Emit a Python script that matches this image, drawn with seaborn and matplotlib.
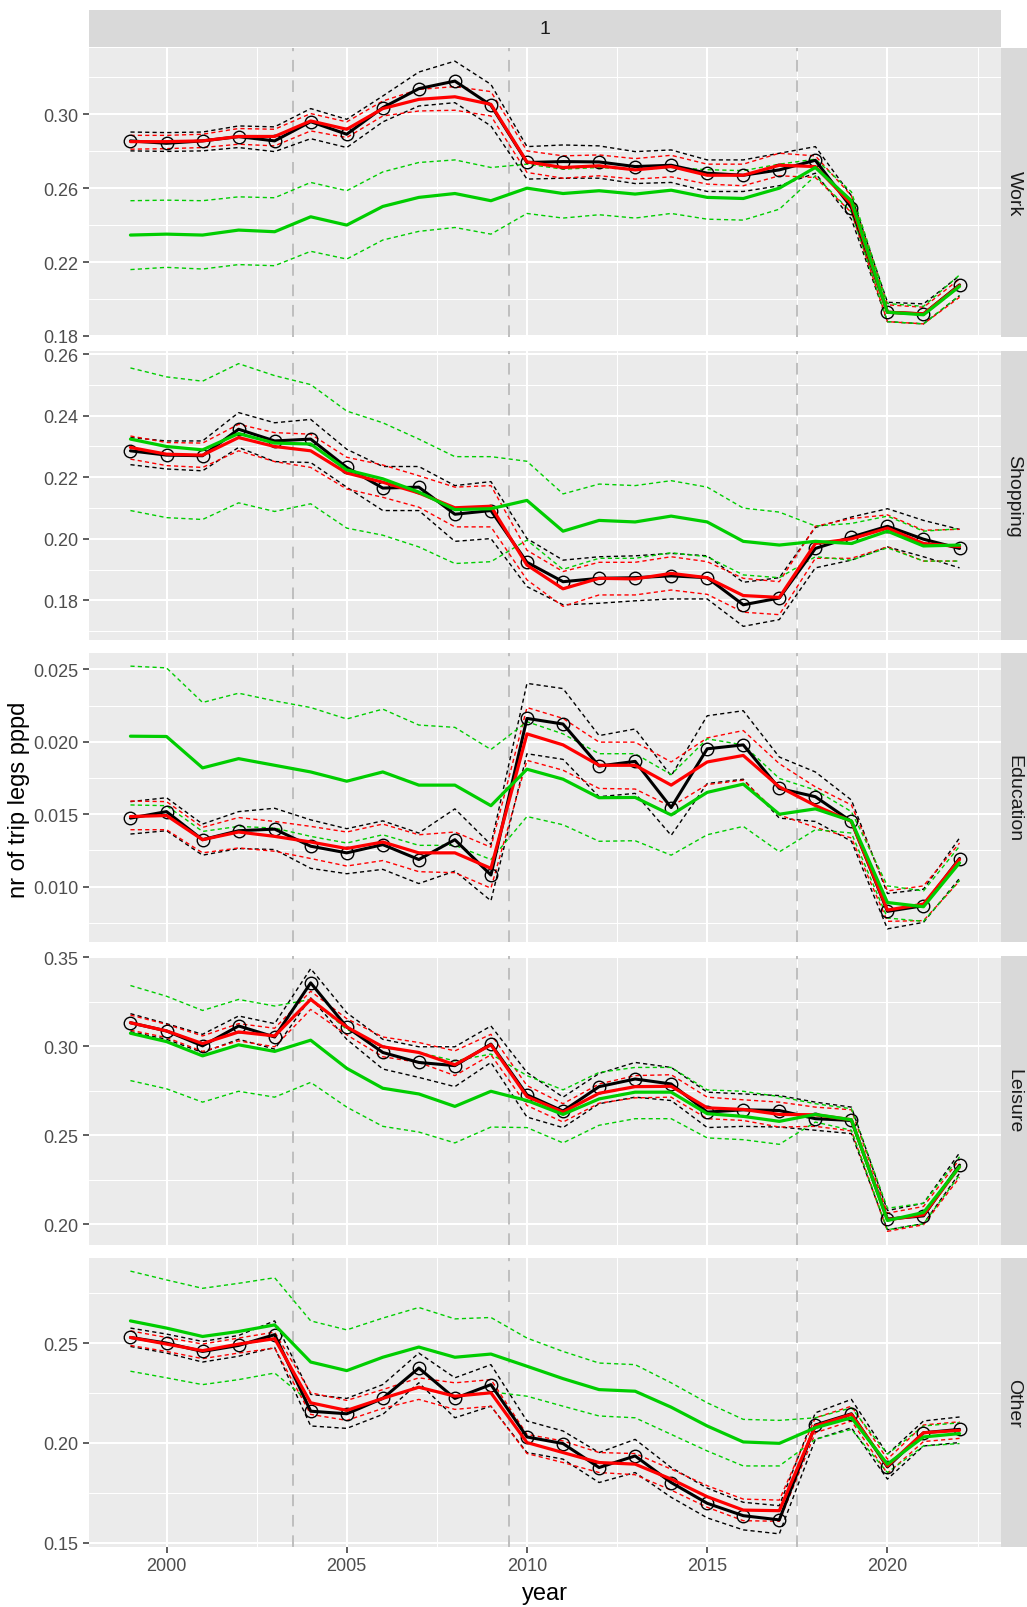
import matplotlib
matplotlib.use("Agg")
import matplotlib.pyplot as plt
import seaborn as sns
import pandas as pd
from matplotlib.ticker import FixedLocator, FormatStrFormatter

years = list(range(1999, 2023))
purposes = ["Work", "Shopping", "Education", "Leisure", "Other"]
breaks = [2003.5, 2009.5, 2017.5]

# Work
work_obs = [0.2856, 0.2843, 0.2856, 0.2879, 0.2856, 0.2960, 0.2892, 0.3036, 0.3139, 0.3180, 0.3049, 0.2739,
            0.2744, 0.2742, 0.2717, 0.2724, 0.2681, 0.2670, 0.2699, 0.2751, 0.2495, 0.1928, 0.1919, 0.2076]
work_obs_lo = [0.2802, 0.2799, 0.2802, 0.2820, 0.2798, 0.2868, 0.2820, 0.2959, 0.3045, 0.3063, 0.2937, 0.2649,
               0.2654, 0.2654, 0.2625, 0.2631, 0.2582, 0.2582, 0.2613, 0.2681, 0.2432, 0.1877, 0.1865, 0.2018]
work_obs_hi = [0.2904, 0.2901, 0.2904, 0.2937, 0.2932, 0.3031, 0.2973, 0.3099, 0.3229, 0.3288, 0.3162, 0.2825,
               0.2834, 0.2829, 0.2798, 0.2807, 0.2753, 0.2753, 0.2789, 0.2825, 0.2559, 0.1982, 0.1973, 0.2126]
work_fit = [0.2852, 0.2852, 0.2856, 0.2880, 0.2880, 0.2964, 0.2919, 0.3031, 0.3081, 0.3095, 0.3054, 0.2742,
            0.2712, 0.2721, 0.2699, 0.2717, 0.2670, 0.2670, 0.2724, 0.2717, 0.2514, 0.1928, 0.1919, 0.2072]
work_fit_lo = [0.2811, 0.2814, 0.2820, 0.2838, 0.2829, 0.2910, 0.2874, 0.2991, 0.3018, 0.3022, 0.2991, 0.2685,
               0.2654, 0.2667, 0.2649, 0.2661, 0.2622, 0.2613, 0.2667, 0.2658, 0.2468, 0.1877, 0.1865, 0.2009]
work_fit_hi = [0.2886, 0.2886, 0.2892, 0.2923, 0.2919, 0.3004, 0.2959, 0.3072, 0.3135, 0.3150, 0.3123, 0.2802,
               0.2775, 0.2780, 0.2760, 0.2778, 0.2730, 0.2730, 0.2789, 0.2775, 0.2559, 0.1968, 0.1955, 0.2108]
work_alt = [0.2346, 0.2351, 0.2346, 0.2373, 0.2364, 0.2445, 0.2400, 0.2501, 0.2550, 0.2571, 0.2532, 0.2600,
            0.2571, 0.2586, 0.2568, 0.2589, 0.2550, 0.2544, 0.2600, 0.2712, 0.2532, 0.1928, 0.1914, 0.2068]
work_alt_lo = [0.2159, 0.2171, 0.2162, 0.2186, 0.2180, 0.2258, 0.2216, 0.2319, 0.2366, 0.2387, 0.2351, 0.2463,
               0.2438, 0.2456, 0.2438, 0.2463, 0.2432, 0.2427, 0.2486, 0.2667, 0.2470, 0.1877, 0.1865, 0.2018]
work_alt_hi = [0.2532, 0.2535, 0.2532, 0.2553, 0.2548, 0.2631, 0.2586, 0.2688, 0.2739, 0.2753, 0.2712, 0.2730,
               0.2703, 0.2712, 0.2700, 0.2712, 0.2700, 0.2695, 0.2730, 0.2757, 0.2580, 0.1975, 0.1960, 0.2130]

# Shopping
shop_obs = [0.2286, 0.2272, 0.2270, 0.2356, 0.2318, 0.2324, 0.2232, 0.2165, 0.2168, 0.2080, 0.2092, 0.1924,
            0.1861, 0.1872, 0.1874, 0.1880, 0.1874, 0.1786, 0.1808, 0.1969, 0.2006, 0.2041, 0.1999, 0.1969]
shop_obs_lo = [0.2241, 0.2227, 0.2221, 0.2297, 0.2251, 0.2248, 0.2168, 0.2092, 0.2092, 0.1992, 0.2001, 0.1845,
               0.1786, 0.1791, 0.1799, 0.1805, 0.1805, 0.1716, 0.1738, 0.1906, 0.1931, 0.1974, 0.1942, 0.1906]
shop_obs_hi = [0.2329, 0.2318, 0.2318, 0.2410, 0.2377, 0.2388, 0.2291, 0.2235, 0.2235, 0.2173, 0.2186, 0.2001,
               0.1931, 0.1942, 0.1945, 0.1953, 0.1945, 0.1859, 0.1874, 0.2037, 0.2071, 0.2098, 0.2060, 0.2031]
shop_fit = [0.2297, 0.2275, 0.2272, 0.2329, 0.2300, 0.2286, 0.2214, 0.2184, 0.2149, 0.2101, 0.2106, 0.1915,
            0.1838, 0.1872, 0.1870, 0.1888, 0.1874, 0.1816, 0.1810, 0.1985, 0.2000, 0.2035, 0.1985, 0.1975]
shop_fit_lo = [0.2259, 0.2238, 0.2232, 0.2286, 0.2251, 0.2232, 0.2162, 0.2135, 0.2103, 0.2039, 0.2039, 0.1867,
               0.1781, 0.1818, 0.1818, 0.1834, 0.1820, 0.1762, 0.1754, 0.1937, 0.1937, 0.1974, 0.1928, 0.1928]
shop_fit_hi = [0.2334, 0.2313, 0.2311, 0.2372, 0.2345, 0.2340, 0.2265, 0.2240, 0.2205, 0.2168, 0.2173, 0.1963,
               0.1894, 0.1924, 0.1924, 0.1942, 0.1926, 0.1872, 0.1861, 0.2041, 0.2066, 0.2078, 0.2028, 0.2031]
shop_alt = [0.2324, 0.2300, 0.2289, 0.2342, 0.2311, 0.2308, 0.2224, 0.2195, 0.2152, 0.2095, 0.2098, 0.2125,
            0.2025, 0.2060, 0.2055, 0.2074, 0.2055, 0.1992, 0.1980, 0.1992, 0.1985, 0.2025, 0.1977, 0.1980]
shop_alt_lo = [0.2092, 0.2069, 0.2063, 0.2117, 0.2089, 0.2114, 0.2035, 0.2012, 0.1974, 0.1920, 0.1926, 0.1996,
               0.1901, 0.1937, 0.1937, 0.1955, 0.1942, 0.1883, 0.1874, 0.1942, 0.1931, 0.1971, 0.1928, 0.1928]
shop_alt_hi = [0.2555, 0.2526, 0.2512, 0.2569, 0.2530, 0.2501, 0.2415, 0.2377, 0.2324, 0.2267, 0.2267, 0.2252,
               0.2146, 0.2178, 0.2173, 0.2189, 0.2168, 0.2100, 0.2087, 0.2042, 0.2050, 0.2074, 0.2025, 0.2033]

# Education
edu_obs = [0.01473, 0.01518, 0.01324, 0.01386, 0.01397, 0.01279, 0.01233, 0.01290, 0.01187, 0.01324, 0.01080, 0.02162,
           0.02123, 0.01833, 0.01865, 0.01546, 0.01952, 0.01979, 0.01678, 0.01621, 0.01450, 0.00829, 0.00868, 0.01194]
edu_obs_lo = [0.01363, 0.01386, 0.01217, 0.01263, 0.01256, 0.01126, 0.01089, 0.01119, 0.01021, 0.01107, 0.00902, 0.01918,
              0.01879, 0.01621, 0.01644, 0.01354, 0.01712, 0.01742, 0.01473, 0.01450, 0.01313, 0.00708, 0.00753, 0.01057]
edu_obs_hi = [0.01587, 0.01614, 0.01432, 0.01518, 0.01541, 0.01461, 0.01400, 0.01454, 0.01370, 0.01537, 0.01290, 0.02404,
              0.02368, 0.02043, 0.02089, 0.01765, 0.02180, 0.02215, 0.01895, 0.01792, 0.01598, 0.00952, 0.00982, 0.01336]
edu_fit = [0.01484, 0.01491, 0.01324, 0.01377, 0.01347, 0.01308, 0.01263, 0.01308, 0.01233, 0.01233, 0.01126, 0.02055,
           0.01979, 0.01838, 0.01838, 0.01701, 0.01861, 0.01906, 0.01689, 0.01560, 0.01450, 0.00838, 0.00879, 0.01187]
edu_fit_lo = [0.01393, 0.01393, 0.01233, 0.01267, 0.01244, 0.01194, 0.01142, 0.01180, 0.01103, 0.01096, 0.00989, 0.01872,
              0.01804, 0.01678, 0.01674, 0.01553, 0.01705, 0.01735, 0.01495, 0.01409, 0.01336, 0.00760, 0.00765, 0.01039]
edu_fit_hi = [0.01591, 0.01587, 0.01409, 0.01477, 0.01450, 0.01416, 0.01377, 0.01432, 0.01358, 0.01377, 0.01272, 0.02237,
              0.02162, 0.01998, 0.01998, 0.01861, 0.02027, 0.02078, 0.01849, 0.01689, 0.01564, 0.00970, 0.01005, 0.01301]
edu_alt = [0.02039, 0.02037, 0.01820, 0.01884, 0.01838, 0.01792, 0.01728, 0.01792, 0.01701, 0.01701, 0.01559, 0.01811,
           0.01742, 0.01614, 0.01616, 0.01495, 0.01651, 0.01708, 0.01500, 0.01537, 0.01454, 0.00890, 0.00861, 0.01164]
edu_alt_lo = [0.01564, 0.01559, 0.01381, 0.01416, 0.01404, 0.01347, 0.01301, 0.01358, 0.01285, 0.01285, 0.01187, 0.01484,
              0.01427, 0.01313, 0.01317, 0.01217, 0.01358, 0.01416, 0.01240, 0.01393, 0.01370, 0.00783, 0.00760, 0.01043]
edu_alt_hi = [0.02523, 0.02511, 0.02272, 0.02336, 0.02283, 0.02237, 0.02158, 0.02226, 0.02116, 0.02100, 0.01947, 0.02139,
              0.02055, 0.01918, 0.01918, 0.01774, 0.02021, 0.01979, 0.01747, 0.01667, 0.01518, 0.01005, 0.00970, 0.01279]

# Leisure
leis_obs = [0.3131, 0.3085, 0.3001, 0.3113, 0.3051, 0.3355, 0.3107, 0.2964, 0.2908, 0.2890, 0.3011, 0.2726,
            0.2635, 0.2772, 0.2815, 0.2787, 0.2629, 0.2642, 0.2638, 0.2592, 0.2582, 0.2028, 0.2046, 0.2331]
leis_obs_lo = [0.3081, 0.3038, 0.2964, 0.3038, 0.2983, 0.3271, 0.3038, 0.2871, 0.2824, 0.2772, 0.2908, 0.2601,
               0.2542, 0.2676, 0.2713, 0.2694, 0.2542, 0.2549, 0.2545, 0.2527, 0.2508, 0.1968, 0.2002, 0.2285]
leis_obs_hi = [0.3182, 0.3126, 0.3066, 0.3169, 0.3126, 0.3435, 0.3187, 0.3038, 0.2996, 0.2996, 0.3113, 0.2852,
               0.2713, 0.2846, 0.2908, 0.2880, 0.2741, 0.2731, 0.2722, 0.2685, 0.2657, 0.2076, 0.2117, 0.2400]
leis_fit = [0.3131, 0.3085, 0.3014, 0.3079, 0.3057, 0.3262, 0.3107, 0.2996, 0.2964, 0.2895, 0.3007, 0.2716,
            0.2629, 0.2735, 0.2772, 0.2774, 0.2653, 0.2644, 0.2616, 0.2614, 0.2586, 0.2024, 0.2052, 0.2322]
leis_fit_lo = [0.3089, 0.3048, 0.2970, 0.3029, 0.2996, 0.3206, 0.3063, 0.2940, 0.2908, 0.2834, 0.2951, 0.2666,
               0.2573, 0.2679, 0.2709, 0.2713, 0.2592, 0.2582, 0.2545, 0.2549, 0.2523, 0.1959, 0.1996, 0.2262]
leis_fit_hi = [0.3174, 0.3122, 0.3057, 0.3126, 0.3100, 0.3308, 0.3154, 0.3051, 0.3020, 0.2973, 0.3066, 0.2778,
               0.2676, 0.2787, 0.2834, 0.2839, 0.2713, 0.2698, 0.2685, 0.2657, 0.2642, 0.2061, 0.2099, 0.2363]
leis_alt = [0.3072, 0.3025, 0.2945, 0.3007, 0.2970, 0.3033, 0.2875, 0.2763, 0.2731, 0.2661, 0.2746, 0.2694,
            0.2616, 0.2703, 0.2741, 0.2741, 0.2620, 0.2605, 0.2577, 0.2616, 0.2586, 0.2020, 0.2065, 0.2322]
leis_alt_lo = [0.2806, 0.2760, 0.2685, 0.2746, 0.2713, 0.2796, 0.2657, 0.2549, 0.2517, 0.2456, 0.2545, 0.2542,
               0.2456, 0.2555, 0.2592, 0.2592, 0.2484, 0.2474, 0.2448, 0.2573, 0.2527, 0.1968, 0.2002, 0.2275]
leis_alt_hi = [0.3340, 0.3280, 0.3200, 0.3262, 0.3225, 0.3262, 0.3094, 0.2992, 0.2964, 0.2917, 0.2955, 0.2834,
               0.2754, 0.2852, 0.2880, 0.2880, 0.2754, 0.2746, 0.2716, 0.2676, 0.2648, 0.2089, 0.2117, 0.2378]

# Other
oth_obs = [0.2528, 0.2500, 0.2458, 0.2488, 0.2542, 0.2159, 0.2146, 0.2223, 0.2375, 0.2223, 0.2292, 0.2030,
           0.1997, 0.1877, 0.1935, 0.1802, 0.1698, 0.1636, 0.1615, 0.2090, 0.2146, 0.1880, 0.2051, 0.2068]
oth_obs_lo = [0.2483, 0.2450, 0.2405, 0.2434, 0.2478, 0.2085, 0.2073, 0.2143, 0.2301, 0.2126, 0.2184, 0.1952,
              0.1919, 0.1802, 0.1852, 0.1728, 0.1625, 0.1565, 0.1545, 0.2018, 0.2076, 0.1819, 0.1985, 0.2002]
oth_obs_hi = [0.2575, 0.2545, 0.2508, 0.2538, 0.2611, 0.2243, 0.2223, 0.2292, 0.2450, 0.2326, 0.2392, 0.2110,
              0.2060, 0.1952, 0.2018, 0.1877, 0.1774, 0.1703, 0.1686, 0.2151, 0.2218, 0.1944, 0.2110, 0.2130]
oth_fit = [0.2528, 0.2495, 0.2462, 0.2495, 0.2522, 0.2201, 0.2163, 0.2223, 0.2279, 0.2234, 0.2251, 0.2002,
           0.1952, 0.1902, 0.1894, 0.1819, 0.1731, 0.1664, 0.1661, 0.2085, 0.2143, 0.1885, 0.2051, 0.2063]
oth_fit_lo = [0.2488, 0.2458, 0.2422, 0.2450, 0.2475, 0.2143, 0.2113, 0.2173, 0.2218, 0.2168, 0.2184, 0.1947,
              0.1902, 0.1852, 0.1841, 0.1764, 0.1678, 0.1611, 0.1608, 0.2051, 0.2110, 0.1847, 0.2007, 0.2023]
oth_fit_hi = [0.2561, 0.2528, 0.2495, 0.2525, 0.2555, 0.2251, 0.2213, 0.2267, 0.2326, 0.2301, 0.2317, 0.2043,
              0.2010, 0.1952, 0.1947, 0.1869, 0.1786, 0.1719, 0.1714, 0.2126, 0.2184, 0.1919, 0.2090, 0.2106]
oth_alt = [0.2611, 0.2575, 0.2533, 0.2558, 0.2591, 0.2405, 0.2362, 0.2429, 0.2480, 0.2429, 0.2445, 0.2384,
           0.2322, 0.2267, 0.2259, 0.2179, 0.2085, 0.2005, 0.1998, 0.2076, 0.2126, 0.1894, 0.2030, 0.2047]
oth_alt_lo = [0.2359, 0.2326, 0.2292, 0.2317, 0.2350, 0.2201, 0.2159, 0.2223, 0.2276, 0.2234, 0.2256, 0.2234,
              0.2184, 0.2135, 0.2126, 0.2043, 0.1960, 0.1885, 0.1885, 0.2018, 0.2068, 0.1852, 0.1985, 0.1997]
oth_alt_hi = [0.2860, 0.2816, 0.2774, 0.2799, 0.2827, 0.2611, 0.2566, 0.2625, 0.2678, 0.2621, 0.2628, 0.2525,
              0.2458, 0.2400, 0.2392, 0.2301, 0.2201, 0.2118, 0.2113, 0.2126, 0.2176, 0.1944, 0.2085, 0.2101]

# y tick positions per panel
work_ticks = [0.18, 0.22, 0.26, 0.30]
shop_ticks = [0.18, 0.20, 0.22, 0.24, 0.26]
edu_ticks = [0.010, 0.015, 0.020, 0.025]
leis_ticks = [0.20, 0.25, 0.30, 0.35]
oth_ticks = [0.15, 0.20, 0.25]
x_ticks = [2000, 2005, 2010, 2015, 2020]

# build one long table from the named arrays
panel_data = {
    "Work": [work_obs, work_obs_lo, work_obs_hi, work_fit, work_fit_lo, work_fit_hi, work_alt, work_alt_lo, work_alt_hi],
    "Shopping": [shop_obs, shop_obs_lo, shop_obs_hi, shop_fit, shop_fit_lo, shop_fit_hi, shop_alt, shop_alt_lo, shop_alt_hi],
    "Education": [edu_obs, edu_obs_lo, edu_obs_hi, edu_fit, edu_fit_lo, edu_fit_hi, edu_alt, edu_alt_lo, edu_alt_hi],
    "Leisure": [leis_obs, leis_obs_lo, leis_obs_hi, leis_fit, leis_fit_lo, leis_fit_hi, leis_alt, leis_alt_lo, leis_alt_hi],
    "Other": [oth_obs, oth_obs_lo, oth_obs_hi, oth_fit, oth_fit_lo, oth_fit_hi, oth_alt, oth_alt_lo, oth_alt_hi],
}
cols = ["obs", "obs_lo", "obs_hi", "fit", "fit_lo", "fit_hi", "alt", "alt_lo", "alt_hi"]
frames = []
for p in purposes:
    d = pd.DataFrame(dict(zip(cols, panel_data[p])))
    d["year"] = years
    d["purpose"] = p
    frames.append(d)
df = pd.concat(frames, ignore_index=True)

tick_sets = {"Work": (work_ticks, "%.2f"), "Shopping": (shop_ticks, "%.2f"),
             "Education": (edu_ticks, "%.3f"), "Leisure": (leis_ticks, "%.2f"),
             "Other": (oth_ticks, "%.2f")}

colors = {"obs": "black", "fit": "#FF0000", "alt": "#00CD00"}

sns.set_theme(style="darkgrid")
plt.rcParams["font.family"] = ["Liberation Sans", "DejaVu Sans"]

W, H = 1027, 1608
fig = plt.figure(figsize=(W / 100, H / 100), dpi=100)
fig.patch.set_facecolor("white")

left_px, right_px = 89, 1001
tops = [49, 351.5, 654, 956.5, 1259]
ph = 289

for i, p in enumerate(purposes):
    sub = df[df["purpose"] == p]
    ax = fig.add_axes([left_px / W, 1 - (tops[i] + ph) / H, (right_px - left_px) / W, ph / H])
    ax.set_facecolor("#EBEBEB")
    for s in ax.spines.values():
        s.set_visible(False)

    # vertical break lines
    for b in breaks:
        ax.axvline(b, color="#BEBEBE", lw=1.4, linestyle=(0, (6, 4.5)), zorder=1.5)

    # confidence bands as thin dashed lines
    for key in ["obs", "fit", "alt"]:
        for suffix in ["_lo", "_hi"]:
            sns.lineplot(data=sub, x="year", y=key + suffix, ax=ax, color=colors[key],
                         lw=1.0, linestyle=(0, (3, 2.3)), errorbar=None, zorder=2)

    # mean lines
    sns.lineplot(data=sub, x="year", y="obs", ax=ax, color="black", lw=2.2, errorbar=None,
                 marker="o", markersize=9, markerfacecolor="none", markeredgecolor="black",
                 markeredgewidth=1.0, zorder=3)
    sns.lineplot(data=sub, x="year", y="fit", ax=ax, color=colors["fit"], lw=2.3, errorbar=None, zorder=4)
    sns.lineplot(data=sub, x="year", y="alt", ax=ax, color=colors["alt"], lw=2.3, errorbar=None, zorder=5)

    # limits: ggplot style 5% expansion
    vals = sub[cols].values
    lo, hi = vals.min(), vals.max()
    pad = (hi - lo) * 0.05
    ax.set_ylim(lo - pad, hi + pad)
    ax.set_xlim(1999 - 23 * 0.05, 2022 + 23 * 0.05)

    ticks, fmt = tick_sets[p]
    step = ticks[1] - ticks[0]
    ax.yaxis.set_major_locator(FixedLocator(ticks))
    ax.yaxis.set_minor_locator(FixedLocator([t + step / 2 for t in [ticks[0] - step] + ticks]))
    ax.yaxis.set_major_formatter(FormatStrFormatter(fmt))
    ax.xaxis.set_major_locator(FixedLocator(x_ticks))
    ax.xaxis.set_minor_locator(FixedLocator([1997.5, 2002.5, 2007.5, 2012.5, 2017.5, 2022.5]))

    ax.grid(which="major", color="white", lw=1.5)
    ax.grid(which="minor", color="white", lw=0.75)
    ax.set_axisbelow(True)
    ax.tick_params(which="major", length=4.5, width=1.1, color="#333333",
                   labelsize=13, labelcolor="#4D4D4D", pad=3, left=True, bottom=True)
    ax.tick_params(which="minor", length=0)
    ax.set_xlabel("")
    ax.set_ylabel("")
    if i < len(purposes) - 1:
        ax.tick_params(axis="x", labelbottom=False, bottom=False)

    # right facet strip
    sax = fig.add_axes([right_px / W, 1 - (tops[i] + ph) / H, (W - right_px) / W, ph / H])
    sax.set_facecolor("#D9D9D9")
    sax.set_xticks([])
    sax.set_yticks([])
    for s in sax.spines.values():
        s.set_visible(False)
    sax.text(0.5, 0.5, p, rotation=-90, ha="center", va="center", fontsize=14,
             color="#1A1A1A", transform=sax.transAxes)

# top strip
tax = fig.add_axes([left_px / W, 1 - 47.5 / H, (right_px - left_px) / W, 36.5 / H])
tax.set_facecolor("#D9D9D9")
tax.set_xticks([])
tax.set_yticks([])
for s in tax.spines.values():
    s.set_visible(False)
tax.text(0.5, 0.5, "1", ha="center", va="center", fontsize=14, color="#1A1A1A", transform=tax.transAxes)

fig.text(19 / W, 1 - 800 / H, "nr of trip legs pppd", rotation=90, ha="center", va="center",
         fontsize=17, color="black")
fig.text((left_px + right_px) / 2 / W, 1 - 1594 / H, "year", ha="center", va="center",
         fontsize=17, color="black")

fig.savefig("out.png", dpi=100)
